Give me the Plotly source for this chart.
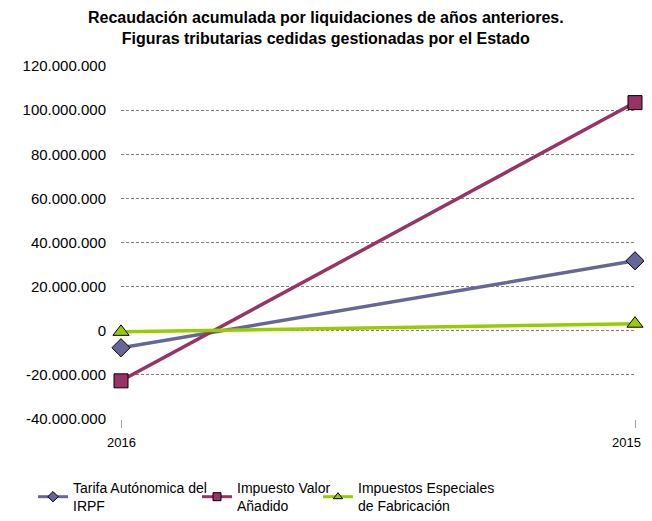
import plotly.graph_objects as go

# Años (eje X) y series, valores en euros
anios = ["2016", "2015"]
irpf = [-7700000, 31700000]
iva = [-22700000, 103400000]
iiee = [-500000, 3200000]

# la página añade 8px de margen al cuerpo: la figura se reduce para caber
W, H = 636, 505
OFF = 8

series = [
    ("Tarifa Autónomica del<br>IRPF", irpf, "#666699", "diamond", 14, "legend", 33),
    ("Impuesto Valor<br>Añadido", iva, "#993366", "square", 14, "legend2", 197),
    ("Impuestos Especiales<br>de Fabricación", iiee, "#99CC00", "triangle-up", 14, "legend3", 318),
]

tick_vals = list(range(-40000000, 120000001, 20000000))
tick_text = [f"{v:,}".replace(",", ".") for v in tick_vals]

fig = go.Figure()
legends = {}
for name, vals, color, symbol, size, leg, lx in series:
    fig.add_trace(go.Scatter(
        x=anios,
        y=vals,
        name=name,
        showlegend=False,
        mode="lines+markers",
        line=dict(color=color, width=3.5),
        marker=dict(symbol=symbol, size=size, color=color,
                    line=dict(color="#000000", width=1)),
        cliponaxis=False,
    ))
    # entrada de leyenda con símbolo más pequeño, como en el original
    fig.add_trace(go.Scatter(
        x=[None],
        y=[None],
        name=name,
        legend=leg,
        mode="lines+markers",
        line=dict(color=color, width=3),
        marker=dict(symbol=symbol, size=8, color=color,
                    line=dict(color="#000000", width=1)),
    ))
    legends[leg] = dict(
        orientation="h",
        xref="container", yref="container",
        x=(lx - OFF) / W, xanchor="left",
        y=1 - (472 - OFF) / H, yanchor="top",
        font=dict(size=14),
        itemwidth=30,
        bgcolor="rgba(0,0,0,0)",
    )

# etiquetas del eje X como anotaciones: la última se alinea a la derecha
# para que no quede recortada en el borde de la figura
for i, anio in enumerate(anios):
    last = i == len(anios) - 1
    fig.add_annotation(
        x=i, xref="x",
        y=0, yref="paper",
        text=anio,
        showarrow=False,
        xanchor="right" if last else "center",
        xshift=8 if last else 0,
        yanchor="top",
        yshift=-14,
        font=dict(size=13),
    )

# título de dos líneas como anotación sobre el área del gráfico
fig.add_annotation(
    x=(326 - 121) / (635 - 121), xref="paper",
    y=1, yref="paper",
    text="<b>Recaudación acumulada por liquidaciones de años anteriores.<br>"
         "Figuras tributarias cedidas gestionadas por el Estado</b>",
    showarrow=False,
    xanchor="center",
    yanchor="bottom",
    yshift=17,
    font=dict(size=16),
)

fig.update_layout(
    width=W,
    height=H,
    paper_bgcolor="white",
    plot_bgcolor="white",
    font=dict(family="Liberation Sans, Arial", color="#000000"),
    margin=dict(l=121 - OFF, r=652 - 635 - OFF, t=66 - OFF, b=(521 - OFF) - 419),
    showlegend=True,
    xaxis=dict(
        type="category",
        range=[0, 1],
        automargin=False,
        showgrid=False,
        showline=False,
        zeroline=False,
        showticklabels=False,
        ticks="outside",
        ticklen=8,
        tickcolor="#a0a0a0",
    ),
    yaxis=dict(
        range=[-40000000, 120000000],
        automargin=False,
        tickvals=tick_vals,
        ticktext=tick_text,
        showgrid=True,
        gridcolor="#808080",
        griddash="3px,2px",
        gridwidth=1,
        zeroline=False,
        showline=False,
        tickfont=dict(size=15),
        ticks="",
        ticklabelstandoff=14,
    ),
    **legends,
)

fig.write_html("out.html")
